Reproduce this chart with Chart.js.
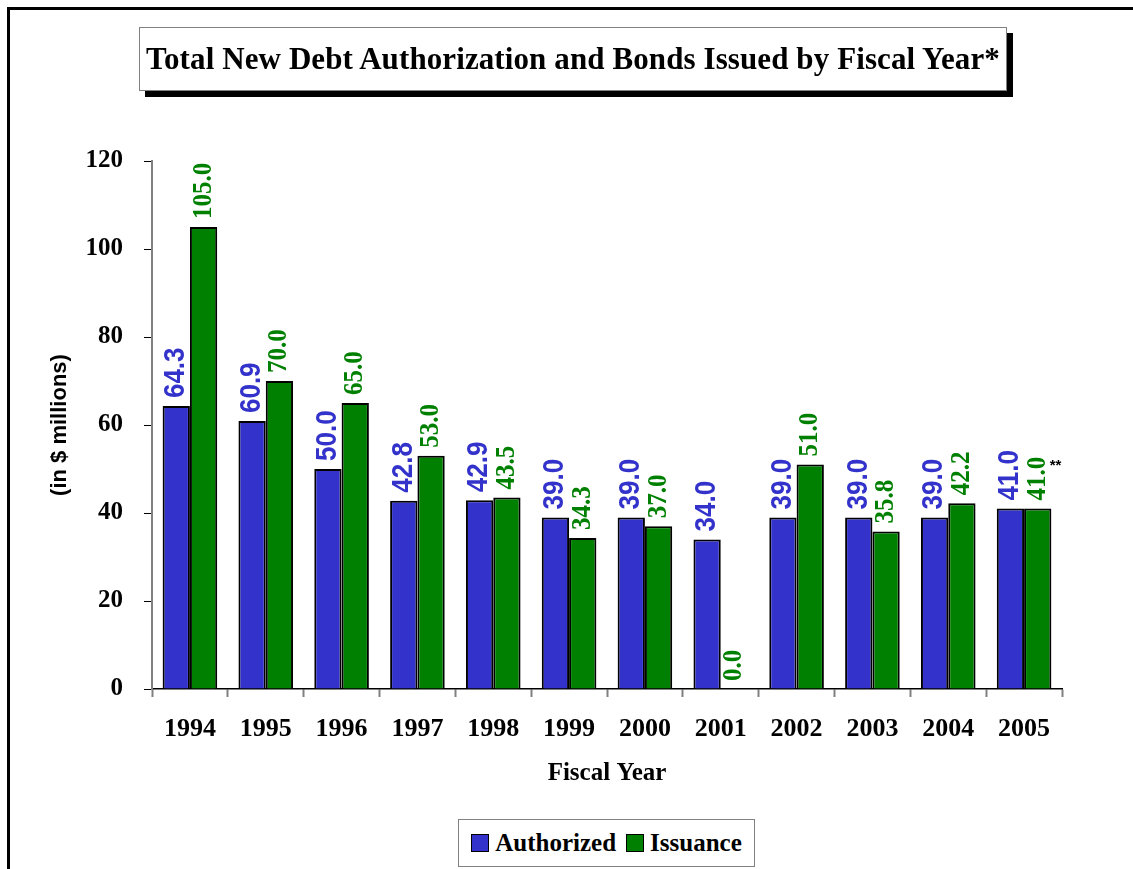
<!DOCTYPE html>
<html>
<head>
<meta charset="utf-8">
<title>Total New Debt Authorization and Bonds Issued by Fiscal Year</title>
<script src="https://cdn.jsdelivr.net/npm/chart.js@4/dist/chart.umd.min.js"></script>
<style>
	body { margin: 0; background: #fff; }
	#wrap { position: relative; width: 1133px; height: 869px; overflow: hidden; }
	#frame { position: absolute; left: 7px; top: 7px; width: 1200px; height: 900px; border-top: 3px solid #000; border-left: 3px solid #000; }
	#chartc { position: absolute; left: 0; top: 0; }
	#title {
		position: absolute; left: 139px; top: 27px; width: 866px; height: 62px;
		border: 1px solid #808080; background: #fff; box-shadow: 6px 6px 0 #000;
		font: bold 31px "Times New Roman", "Liberation Serif", serif;
		letter-spacing: 0.1px;
		line-height: 62px; text-align: center; white-space: nowrap;
	}
	#legend {
		position: absolute; left: 458px; top: 819px; width: 295px; height: 46px;
		border: 1px solid #808080; background: #fff;
		font: bold 25px "Times New Roman", "Liberation Serif", serif;
		display: flex; align-items: center; justify-content: center; white-space: nowrap;
	}
	#legend span.box { display: inline-block; width: 16px; height: 16px; border: 1px solid #000; margin: 0 6px 0 0; }
	#legend span.item { display: inline-flex; align-items: center; margin: 0 5px; }
</style>
</head>
<body>
<div id="wrap">
	<div id="frame"></div>
	<canvas id="chartc" width="1133" height="869"></canvas>
	<div id="title">Total New Debt Authorization and Bonds Issued by Fiscal Year*</div>
	<div id="legend"></div>
</div>
<script>
// Data

var years = ["1994", "1995", "1996", "1997", "1998", "1999", "2000", "2001", "2002", "2003", "2004", "2005"];
var authorized = [64.3, 60.9, 50.0, 42.8, 42.9, 39.0, 39.0, 34.0, 39.0, 39.0, 39.0, 41.0];
var issuance = [105.0, 70.0, 65.0, 53.0, 43.5, 34.3, 37.0, 0.0, 51.0, 35.8, 42.2, 41.0];
var issuanceNotes = ["", "", "", "", "", "", "", "", "", "", "", "**"];
var yTicks = [0, 20, 40, 60, 80, 100, 120];

var blue = "#3333CC";
var green = "#008000";
var serif = "'Times New Roman', 'Liberation Serif', serif";
var sans = "Arial, 'Liberation Sans', sans-serif";

// Value labels, written upward above each bar

var barLabels = {
	id: "barLabels",
	afterDatasetsDraw: function(chart) {
		var ctx = chart.ctx;
		chart.data.datasets.forEach(function(ds, i) {
			var meta = chart.getDatasetMeta(i);
			meta.data.forEach(function(bar, j) {
				var text = ds.data[j].toFixed(1);
				ctx.save();
				ctx.translate(bar.x, bar.y - 8);
				ctx.rotate(-Math.PI / 2);
				ctx.scale(1, 1.1);
				ctx.font = ds.labelFont;
				ctx.fillStyle = ds.backgroundColor;
				ctx.textAlign = "left";
				ctx.textBaseline = "middle";
				ctx.fillText(text, 0, 0);
				var w = ctx.measureText(text).width;
				var note = ds.notes ? ds.notes[j] : "";
				ctx.restore();
				if (note) {
					ctx.save();
					ctx.font = "bold 15px " + sans;
					ctx.fillStyle = "#000";
					ctx.textAlign = "left";
					ctx.textBaseline = "top";
					ctx.fillText(note, bar.x + 12, bar.y - 8 - w + 2);
					ctx.restore();
				}
			});
		});
	}
};

var chart = new Chart("chartc", {
	type: "bar",
	data: {
		labels: years,
		datasets: [{
			label: "Authorized",
			data: authorized,
			backgroundColor: blue,
			borderColor: "#000",
			borderWidth: 2,
			labelFont: "bold 26px " + sans
		},
		{
			label: "Issuance",
			data: issuance,
			backgroundColor: green,
			borderColor: "#000",
			borderWidth: 2,
			labelFont: "bold 25px " + serif,
			notes: issuanceNotes
		}]
	},
	options: {
		responsive: false,
		animation: false,
		layout: { padding: { top: 161, right: 71, bottom: 0, left: 0 } },
		datasets: { bar: { categoryPercentage: 0.72, barPercentage: 1.0 } },
		plugins: {
			legend: { display: false },
			title: { display: false },
			tooltip: { enabled: false }
		},
		scales: {
			x: {
				afterFit: function(scale) { scale.height = 180; },
				border: { color: "#000", width: 1.5 },
				grid: { offset: true, drawOnChartArea: false, tickColor: "#808080", tickWidth: 2, tickLength: 8 },
				ticks: { color: "#000", padding: 17, font: { family: serif, size: 26, weight: "bold" } },
				title: {
					display: true, text: "Fiscal Year", color: "#000",
					font: { family: serif, size: 25, weight: "bold" },
					padding: { top: 80, bottom: 80 }
				}
			},
			y: {
				min: 0,
				max: 120,
				afterFit: function(scale) { scale.width = 152; },
				afterBuildTicks: function(scale) {
					scale.ticks = yTicks.map(function(v) { return { value: v }; });
				},
				border: { color: "#808080", width: 2 },
				grid: { drawOnChartArea: false, tickColor: "#000", tickWidth: 1, tickLength: 8 },
				ticks: { color: "#000", padding: 21, font: { family: serif, size: 25, weight: "bold" } },
				title: {
					display: true, text: "(in $ millions)", color: "#000",
					font: { family: sans, size: 22, weight: "bold" },
					padding: { top: 47, bottom: 47 }
				}
			}
		}
	},
	plugins: [barLabels]
});

// Legend box under the chart

var legend = document.getElementById("legend");
chart.data.datasets.forEach(function(ds) {
	var item = document.createElement("span");
	item.className = "item";
	var box = document.createElement("span");
	box.className = "box";
	box.style.background = ds.backgroundColor;
	item.appendChild(box);
	item.appendChild(document.createTextNode(ds.label));
	legend.appendChild(item);
});
</script>
</body>
</html>
